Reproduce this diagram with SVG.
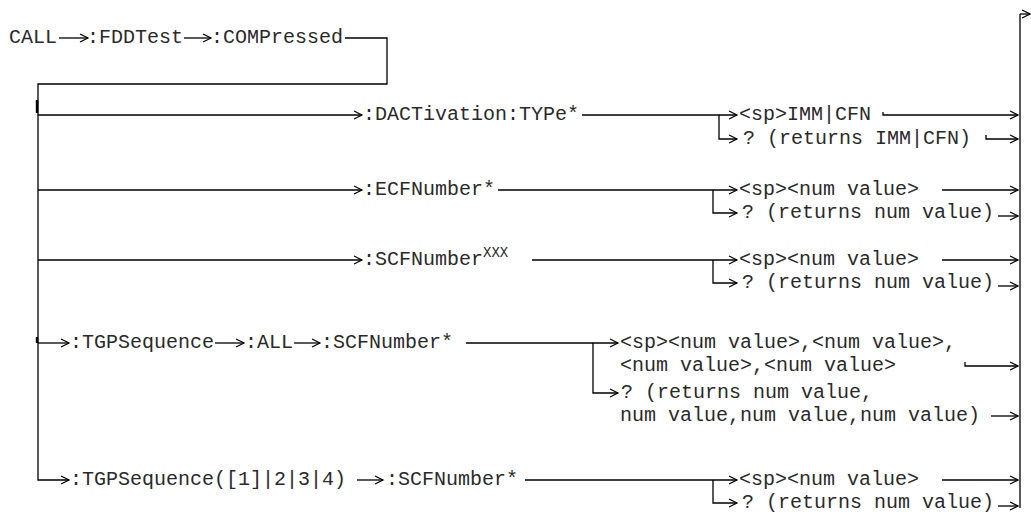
<svg xmlns="http://www.w3.org/2000/svg" width="1031" height="517" viewBox="0 0 1031 517">
<style>
.t{font-family:"Liberation Mono","Courier New",monospace;font-size:20px;fill:#2a2a2a}
.s{font-size:14px}
.c{fill:none;stroke:#000;stroke-width:1.3}
.a{marker-end:url(#ah)}
.k{fill:none;stroke:#000;stroke-width:2.4}
</style>
<defs>
<marker id="ah" markerUnits="userSpaceOnUse" markerWidth="12" markerHeight="12" refX="10" refY="6" orient="auto">
<path d="M2,2 L10,6 L2,10" fill="none" stroke="#000" stroke-width="1.2"/>
</marker>
</defs>
<rect width="1031" height="517" fill="#fff"/>
<g id="connectors">
<path class="c a" d="M59,38 H88"/>
<path class="c a" d="M184,38 H211"/>
<path class="c a" d="M345,38 H387 V84 H38 V480 H69"/>
<path class="k" d="M37,100 V113"/>
<path class="k" d="M37,337 V343"/>
<path class="c a" d="M38,115 H362"/>
<path class="c a" d="M582,115 H737"/>
<path class="c a" d="M719,115 V139 H737"/>
<path class="c a" d="M883,112 V115 H1018"/>
<path class="c a" d="M986,135 V139 H1018"/>
<path class="c a" d="M38,190 H362"/>
<path class="c a" d="M498,190 H737"/>
<path class="c a" d="M713,190 V213 H737"/>
<path class="c a" d="M942,190 H1018"/>
<path class="c a" d="M998,216 H1018"/>
<path class="c a" d="M38,260 H362"/>
<path class="c a" d="M532,260 H737"/>
<path class="c a" d="M713,260 V283 H737"/>
<path class="c a" d="M942,260 H1018"/>
<path class="c a" d="M998,286 H1018"/>
<path class="c a" d="M38,343 H69"/>
<path class="c a" d="M215,343 H244"/>
<path class="c a" d="M294,343 H320"/>
<path class="c a" d="M466,343 H618"/>
<path class="c a" d="M593,343 V393 H618"/>
<path class="c a" d="M965,362 V366 H1018"/>
<path class="c a" d="M991,416 H1018"/>
<path class="c a" d="M357,480 H383"/>
<path class="c a" d="M525,480 H737"/>
<path class="c a" d="M713,480 V503 H737"/>
<path class="c a" d="M942,480 H1018"/>
<path class="c a" d="M998,506 H1018"/>
<path class="c" d="M1020,508 V14"/>
<path class="c a" d="M1020,14 H1030"/>
</g>
<g id="n-call"><text class="t" x="9" y="43">CALL</text></g>
<g id="n-fddtest"><text class="t" x="87" y="43">:FDDTest</text></g>
<g id="n-compressed"><text class="t" x="211" y="43">:COMPressed</text></g>
<g id="n-dactivation"><text class="t" x="363" y="120">:DACTivation:TYPe*</text></g>
<g id="n-dact-set"><text class="t" x="739" y="120">&lt;sp&gt;IMM|CFN</text></g>
<g id="n-dact-query"><text class="t" x="743" y="144">? (returns IMM|CFN)</text></g>
<g id="n-ecfnumber"><text class="t" x="363" y="195">:ECFNumber*</text></g>
<g id="n-ecf-set"><text class="t" x="739" y="195">&lt;sp&gt;&lt;num value&gt;</text></g>
<g id="n-ecf-query"><text class="t" x="742" y="218">? (returns num value)</text></g>
<g id="n-scfnumber"><text class="t" x="363" y="265">:SCFNumber<tspan class="s" dy="-8">XXX</tspan></text></g>
<g id="n-scf-set"><text class="t" x="739" y="265">&lt;sp&gt;&lt;num value&gt;</text></g>
<g id="n-scf-query"><text class="t" x="742" y="288">? (returns num value)</text></g>
<g id="n-tgpseq"><text class="t" x="70" y="348">:TGPSequence</text></g>
<g id="n-all"><text class="t" x="245" y="348">:ALL</text></g>
<g id="n-all-scf"><text class="t" x="321" y="348">:SCFNumber*</text></g>
<g id="n-all-set"><text class="t" x="620" y="348">&lt;sp&gt;&lt;num value&gt;,&lt;num value&gt;,</text><text class="t" x="620" y="371">&lt;num value&gt;,&lt;num value&gt;</text></g>
<g id="n-all-query"><text class="t" x="621" y="398">? (returns num value,</text><text class="t" x="620" y="421">num value,num value,num value)</text></g>
<g id="n-tgpseq-n"><text class="t" x="70" y="485">:TGPSequence([1]|2|3|4)</text></g>
<g id="n-n-scf"><text class="t" x="386" y="485">:SCFNumber*</text></g>
<g id="n-n-set"><text class="t" x="739" y="485">&lt;sp&gt;&lt;num value&gt;</text></g>
<g id="n-n-query"><text class="t" x="742" y="508">? (returns num value)</text></g>
</svg>
